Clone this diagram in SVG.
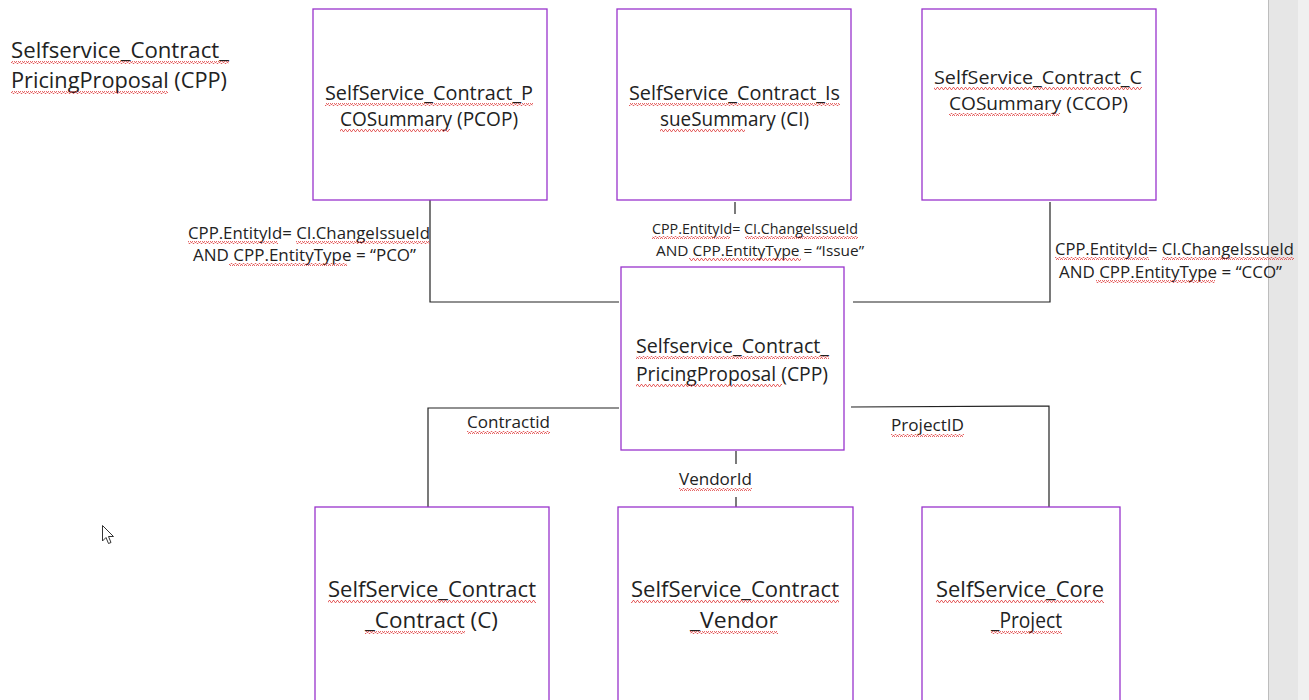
<svg xmlns="http://www.w3.org/2000/svg" width="1309" height="700" viewBox="0 0 1309 700">
<style>
.box{fill:#ffffff;stroke:#9933cc;stroke-width:1.3}
.ln{fill:none;stroke:#222;stroke-width:1.2}
text{font-family:"Open Sans","Liberation Sans",sans-serif;fill:#222}
.t{font-size:20px;text-anchor:middle}
.tb{font-size:22px;text-anchor:middle}
.lb{font-size:16px}
.sq{fill:url(#sq)}
</style>
<defs>
<pattern id="sq" width="4" height="3" patternUnits="userSpaceOnUse">
<polyline points="0,2.5 1,0.5 2,0.5 3,2.5 4,2.5" fill="none" stroke="#e04040" stroke-width="0.8"/>
</pattern>
</defs>
<rect width="1309" height="700" fill="#ffffff"/>
<rect x="1268" y="0" width="41" height="700" fill="#e6e6e6"/>
<rect x="1298" y="0" width="11" height="700" fill="#f0f0f0"/>
<line x1="1268.5" y1="0" x2="1268.5" y2="700" stroke="#bdbdbd"/>

<g id="title">
<text x="11" y="58" style="font-size:21px" textLength="218" lengthAdjust="spacingAndGlyphs">Selfservice_Contract_</text>
<text x="11" y="88" style="font-size:21px" textLength="216" lengthAdjust="spacingAndGlyphs">PricingProposal (CPP)</text>
<rect class="sq" x="11" y="61" width="218" height="3"/>
<rect class="sq" x="11" y="91" width="157" height="3"/>
</g>

<g id="connectors">
<polyline class="ln" points="430,200 430,302 619,302"/>
<line class="ln" x1="735" y1="202" x2="735" y2="214"/>
<polyline class="ln" points="853,302 1050,302 1050,202"/>
<polyline class="ln" points="619,408 428,408 428,507"/>
<line class="ln" x1="736" y1="451" x2="736" y2="464"/>
<line class="ln" x1="736" y1="497" x2="736" y2="507"/>
<polyline class="ln" points="851,407 1049,406 1049,507"/>
</g>

<g id="label-pco">
<text class="lb" x="188" y="239" textLength="242" lengthAdjust="spacingAndGlyphs">CPP.EntityId= CI.ChangeIssueId</text>
<text class="lb" x="193" y="261" textLength="223" lengthAdjust="spacingAndGlyphs">AND CPP.EntityType = “PCO”</text>
<rect class="sq" x="188" y="241" width="90" height="3"/>
<rect class="sq" x="296" y="241" width="134" height="3"/>
<rect class="sq" x="229" y="263" width="118" height="3"/>
</g>
<g id="label-issue">
<text class="lb" x="652" y="234" style="font-size:14px" textLength="206" lengthAdjust="spacingAndGlyphs">CPP.EntityId= CI.ChangeIssueId</text>
<text class="lb" x="656" y="256" style="font-size:14.5px" textLength="208" lengthAdjust="spacingAndGlyphs">AND CPP.EntityType = “Issue”</text>
<rect class="sq" x="652" y="236" width="78" height="3"/>
<rect class="sq" x="745" y="236" width="113" height="3"/>
<rect class="sq" x="689" y="258" width="112" height="3"/>
</g>
<g id="label-cco">
<text class="lb" x="1055" y="255" textLength="239" lengthAdjust="spacingAndGlyphs">CPP.EntityId= CI.ChangeIssueId</text>
<text class="lb" x="1059" y="278" textLength="223" lengthAdjust="spacingAndGlyphs">AND CPP.EntityType = “CCO”</text>
<rect class="sq" x="1055" y="257" width="94" height="3"/>
<rect class="sq" x="1162" y="257" width="132" height="3"/>
<rect class="sq" x="1096" y="280" width="119" height="3"/>
</g>
<g id="label-contractid">
<text class="lb" x="467" y="428" textLength="83" lengthAdjust="spacingAndGlyphs">Contractid</text>
<rect class="sq" x="467" y="431" width="83" height="3"/>
</g>
<g id="label-vendorid">
<text class="lb" x="679" y="485" textLength="73" lengthAdjust="spacingAndGlyphs">VendorId</text>
<rect class="sq" x="679" y="488" width="73" height="3"/>
</g>
<g id="label-projectid">
<text class="lb" x="891" y="431" textLength="73" lengthAdjust="spacingAndGlyphs">ProjectID</text>
<rect class="sq" x="891" y="434" width="73" height="3"/>
</g>

<g id="node-pcop">
<rect class="box" x="313" y="9" width="234" height="191"/>
<text class="t" x="429" y="100" textLength="208" lengthAdjust="spacingAndGlyphs">SelfService_Contract_P</text>
<text class="t" x="429" y="126" textLength="178" lengthAdjust="spacingAndGlyphs">COSummary (PCOP)</text>
<rect class="sq" x="325" y="103" width="208" height="3"/>
<rect class="sq" x="340" y="129" width="110" height="3"/>
</g>
<g id="node-ci">
<rect class="box" x="617" y="9" width="234" height="191"/>
<text class="t" x="734.5" y="100" textLength="211" lengthAdjust="spacingAndGlyphs">SelfService_Contract_Is</text>
<text class="t" x="734.5" y="126" textLength="149" lengthAdjust="spacingAndGlyphs">sueSummary (CI)</text>
<rect class="sq" x="629" y="103" width="211" height="3"/>
<rect class="sq" x="660" y="129" width="85" height="3"/>
</g>
<g id="node-ccop">
<rect class="box" x="922" y="9" width="234" height="191"/>
<text class="t" x="1038" y="84" style="font-size:19px" textLength="208" lengthAdjust="spacingAndGlyphs">SelfService_Contract_C</text>
<text class="t" x="1038.5" y="110" style="font-size:19px" textLength="179" lengthAdjust="spacingAndGlyphs">COSummary (CCOP)</text>
<rect class="sq" x="934" y="87" width="208" height="3"/>
<rect class="sq" x="949" y="113" width="111" height="3"/>
</g>
<g id="node-cpp">
<rect class="box" x="621" y="267" width="223" height="183"/>
<text class="t" x="732.5" y="353" textLength="193" lengthAdjust="spacingAndGlyphs">Selfservice_Contract_</text>
<text class="t" x="732" y="381" textLength="192" lengthAdjust="spacingAndGlyphs">PricingProposal (CPP)</text>
<rect class="sq" x="636" y="356" width="193" height="3"/>
<rect class="sq" x="636" y="384" width="146" height="3"/>
</g>
<g id="node-contract">
<rect class="box" x="315" y="507" width="234" height="200"/>
<text class="tb" x="432" y="597" textLength="208" lengthAdjust="spacingAndGlyphs">SelfService_Contract</text>
<text class="tb" x="431.5" y="628" textLength="133" lengthAdjust="spacingAndGlyphs">_Contract (C)</text>
<rect class="sq" x="328" y="600" width="208" height="3"/>
<rect class="sq" x="365" y="631" width="100" height="3"/>
</g>
<g id="node-vendor">
<rect class="box" x="618" y="507" width="235" height="200"/>
<text class="tb" x="735" y="597" textLength="208" lengthAdjust="spacingAndGlyphs">SelfService_Contract</text>
<text class="tb" x="734" y="628" textLength="88" lengthAdjust="spacingAndGlyphs">_Vendor</text>
<rect class="sq" x="631" y="600" width="208" height="3"/>
<rect class="sq" x="690" y="631" width="88" height="3"/>
</g>
<g id="node-project">
<rect class="box" x="922" y="507" width="198" height="200"/>
<text class="tb" x="1020" y="597" textLength="168" lengthAdjust="spacingAndGlyphs">SelfService_Core</text>
<text class="tb" x="1026.5" y="628" textLength="71" lengthAdjust="spacingAndGlyphs">_Project</text>
<rect class="sq" x="936" y="600" width="168" height="3"/>
<rect class="sq" x="991" y="631" width="71" height="3"/>
</g>

<g id="cursor">
<path d="M102.5,525.5 L102.5,541 L106,537.5 L108.5,543.5 L111,542.5 L108.5,536.5 L113.5,536.5 Z" fill="#ffffff" stroke="#333" stroke-width="1"/>
</g>
</svg>
